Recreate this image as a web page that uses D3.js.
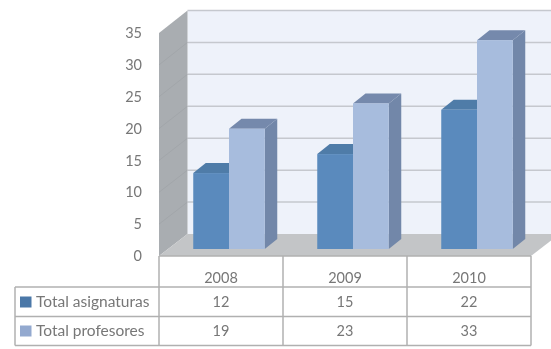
<!DOCTYPE html>
<html><head><meta charset="utf-8">
<script src="https://cdn.jsdelivr.net/npm/d3@7/dist/d3.min.js"></script>
<style>html,body{margin:0;padding:0;background:#fff;overflow:hidden}svg{display:block}text{font-family:Lato,"Open Sans",sans-serif;fill:#777}</style>
</head><body><svg id="c" width="551" height="349"></svg>
<script>
const categories = ["2008","2009","2010"];
const seriesNames = ["Total asignaturas","Total profesores"];
const asignaturas = [12,15,22];
const profesores = [19,23,33];
const yTicks = [0,5,10,15,20,25,30,35];
const seriesValues = [asignaturas, profesores];
const frontColors = ["#5a8abd","#a7bcdd"], topColors = ["#4f7ca8","#7589ac"], sideColors = ["#48719b","#7287a9"];

const svg = d3.select("#c");
const defs = svg.append("defs");
defs.append("filter").attr("id","b").attr("x","-5%").attr("y","-5%").attr("width","110%").attr("height","110%")
  .append("feGaussianBlur").attr("stdDeviation",0.7);
const g = svg.append("g").attr("filter","url(#b)");

const L=159,R=531,depthX=28.5,depthY=22.5,barDX=12.5,barDY=10;
const yFront = d3.scaleLinear().domain([0,35]).range([256,33]);
const yBack = d3.scaleLinear().domain([0,35]).range([234,10.5]);
const yBar = d3.scaleLinear().domain([0,35]).range([249,27.5]);
const xTable = d3.scaleBand().domain(categories).range([L,R]);
const xBar = d3.scaleBand().domain(categories).range([L+8,R+8]);
const xSer = d3.scaleBand().domain([0,1]).range([0,71.5]);
const poly = p => p.map(a=>a.join(",")).join(" ");

// back wall
g.append("rect").attr("x",L+depthX).attr("y",yBack(35)).attr("width",R-L).attr("height",yBack(0)-yBack(35)).attr("fill","#eef2fa");
// side wall
g.append("polygon").attr("points",poly([[L,yFront(35)],[L+depthX,yBack(35)],[L+depthX,yBack(0)],[L,yFront(0)]])).attr("fill","#a9adb1");
// floor
g.append("polygon").attr("points",poly([[L,yFront(0)],[L+depthX,yBack(0)],[R+depthX,yBack(0)],[R,yFront(0)]])).attr("fill","#c3c5c7");
// grid
g.selectAll("line.gb").data(yTicks.slice(1)).join("line").attr("class","gb").attr("x1",L+depthX).attr("x2",R+depthX)
  .attr("y1",d=>yBack(d)).attr("y2",d=>yBack(d)).attr("stroke","#c5c8ce").attr("stroke-width",1.5);
g.selectAll("line.gs").data(yTicks.slice(1,-1)).join("line").attr("class","gs").attr("x1",L).attr("x2",L+depthX)
  .attr("y1",d=>yFront(d)).attr("y2",d=>yBack(d)).attr("stroke","#a2a6aa").attr("stroke-width",1);
// bars
categories.forEach((c,i)=>{
  seriesValues.forEach((vals,s)=>{
    const v=vals[i], x0=xBar(c)+(xBar.bandwidth()-xSer.step()*2)/2+xSer(s), x1=x0+xSer.bandwidth(), y0=yBar(0), y1=yBar(v);
    g.append("polygon").attr("points",poly([[x1,y1],[x1+barDX,y1-barDY],[x1+barDX,y0-barDY],[x1,y0]])).attr("fill",sideColors[s]);
    g.append("polygon").attr("points",poly([[x0,y1],[x0+barDX,y1-barDY],[x1+barDX,y1-barDY],[x1,y1]])).attr("fill",topColors[s]);
    g.append("rect").attr("x",x0).attr("y",y1).attr("width",x1-x0).attr("height",y0-y1).attr("fill",frontColors[s]);
  });
});
// y labels
g.selectAll("text.y").data(yTicks).join("text").attr("class","y").attr("x",142).attr("y",d=>yFront(d)).attr("dy","0.35em")
  .attr("text-anchor","end").attr("font-size",14.5).text(d=>d);
// table
const rowY=[256,287,316.5,345.5], tL=15;
const lineC="#b0b0b0";
const tbl=g.append("g").attr("stroke",lineC).attr("stroke-width",1.5);
[...categories.map(c=>xTable(c)),R].forEach(x=>tbl.append("line").attr("x1",x).attr("x2",x).attr("y1",rowY[0]).attr("y2",rowY[3]));
tbl.append("line").attr("x1",tL).attr("x2",tL).attr("y1",rowY[1]).attr("y2",rowY[3]);
tbl.append("line").attr("x1",L).attr("x2",R).attr("y1",rowY[0]).attr("y2",rowY[0]);
rowY.slice(1).forEach(y=>tbl.append("line").attr("x1",tL).attr("x2",R).attr("y1",y).attr("y2",y));
const cx=c=>xTable(c)+xTable.bandwidth()/2;
g.selectAll("text.h").data(categories).join("text").attr("class","h").attr("x",cx).attr("y",277.5).attr("dy","0.35em")
  .attr("text-anchor","middle").attr("font-size",14.5).text(d=>d);
const rowC=[302,331];
seriesNames.forEach((n,s)=>{
  g.append("rect").attr("x",20).attr("y",rowC[s]-5.5).attr("width",11.5).attr("height",11).attr("fill",s?"#93a9cf":"#4c78a8");
  g.append("text").attr("x",36).attr("y",rowC[s]).attr("dy","0.35em").attr("font-size",15.5).text(n);
  g.selectAll("text.v"+s).data(categories).join("text").attr("class","v"+s).attr("x",cx).attr("y",rowC[s]).attr("dy","0.35em")
    .attr("text-anchor","middle").attr("font-size",14.5).text((d,i)=>seriesValues[s][i]);
});
</script></body></html>
